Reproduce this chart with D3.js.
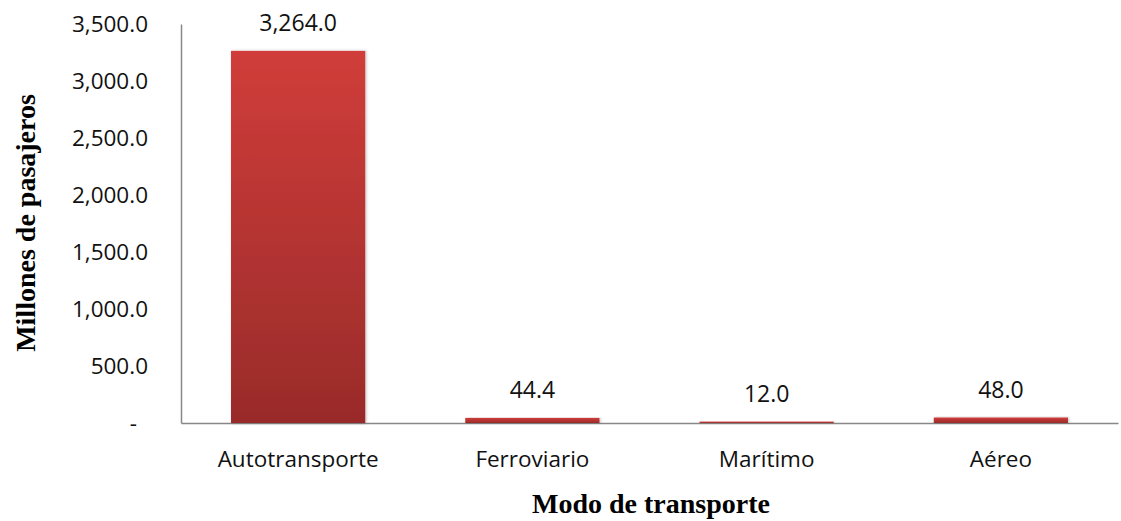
<!DOCTYPE html>
<html>
<head>
<meta charset="utf-8">
<script src="https://cdn.jsdelivr.net/npm/d3@7"></script>
<style>
body { margin: 0; background: #fff; }
.tick text { font-family: "Open Sans", sans-serif; font-size: 22.5px; fill: #111; }
</style>
</head>
<body>
<svg id="chart" width="1121" height="521"></svg>
<script>
var categories = ['Autotransporte', 'Ferroviario', 'Marítimo', 'Aéreo'];
var values = [3264.0, 44.4, 12.0, 48.0];
var yTicks = [0, 500, 1000, 1500, 2000, 2500, 3000, 3500];

var svg = d3.select('#chart');
var margin = {top: 24, right: 3, bottom: 98, left: 181};
var width = 1121 - margin.left - margin.right;
var height = 521 - margin.top - margin.bottom;

var defs = svg.append('defs');
var grad = defs.append('linearGradient')
    .attr('id', 'barGrad')
    .attr('x1', 0).attr('y1', 0).attr('x2', 0).attr('y2', 1);
grad.append('stop').attr('offset', '0%').attr('stop-color', '#d03d3a');
grad.append('stop').attr('offset', '100%').attr('stop-color', '#992b2a');

var shadow = defs.append('filter').attr('id', 'shadow')
    .attr('x', '-10%').attr('y', '-10%').attr('width', '120%').attr('height', '120%');
shadow.append('feDropShadow').attr('dx', 1).attr('dy', 0).attr('stdDeviation', 1.5)
    .attr('flood-color', '#000').attr('flood-opacity', 0.25);

var g = svg.append('g').attr('transform', 'translate(' + margin.left + ',' + margin.top + ')');

var x = d3.scaleBand()
    .domain(categories)
    .range([0, width])
    .paddingInner(0.427)
    .paddingOuter(0.2135);

var y = d3.scaleLinear()
    .domain([0, 3500])
    .range([height, 0]);

var fmt = d3.format(',.1f');

// y axis
var yAxis = g.append('g')
    .call(d3.axisLeft(y).tickValues(yTicks).tickSize(0).tickPadding(33)
        .tickFormat(function (d) { return d === 0 ? '-' : fmt(d); }));
yAxis.select('.domain').attr('stroke', '#888').attr('stroke-width', 1.5);
// accounting style dash sits a bit left of the numbers
yAxis.selectAll('.tick text').filter(function (d) { return d === 0; }).attr('dx', -11);

// x axis
var xAxis = g.append('g')
    .attr('transform', 'translate(0,' + height + ')')
    .call(d3.axisBottom(x).tickSize(0).tickPadding(28));
xAxis.select('.domain').attr('stroke', '#888').attr('stroke-width', 1.5);

// bars
g.selectAll('.bar')
    .data(values)
    .enter().append('rect')
    .attr('class', 'bar')
    .attr('x', function (d, i) { return x(categories[i]); })
    .attr('y', function (d) { return y(d); })
    .attr('width', x.bandwidth())
    .attr('height', function (d) { return height - y(d); })
    .attr('fill', 'url(#barGrad)')
    .attr('filter', 'url(#shadow)');

// value labels
g.selectAll('.label')
    .data(values)
    .enter().append('text')
    .attr('class', 'label')
    .attr('x', function (d, i) { return x(categories[i]) + x.bandwidth() / 2; })
    .attr('y', function (d) { return y(d) - 20; })
    .attr('text-anchor', 'middle')
    .style('font-family', '"Open Sans", sans-serif')
    .style('font-size', '23px')
    .style('fill', '#111')
    .text(function (d) { return fmt(d); });

// axis titles
svg.append('text')
    .attr('transform', 'translate(35,' + 223 + ') rotate(-90)')
    .attr('text-anchor', 'middle')
    .style('font-family', '"Liberation Serif", serif')
    .style('font-weight', 'bold')
    .style('font-size', '28px')
    .text('Millones de pasajeros');

svg.append('text')
    .attr('x', 651)
    .attr('y', 513)
    .attr('text-anchor', 'middle')
    .style('font-family', '"Liberation Serif", serif')
    .style('font-weight', 'bold')
    .style('font-size', '28px')
    .text('Modo de transporte');
</script>
</body>
</html>
